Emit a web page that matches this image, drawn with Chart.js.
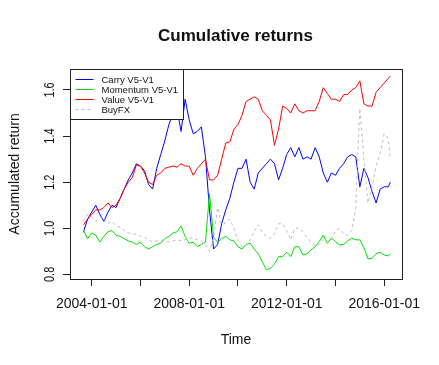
<!DOCTYPE html>
<html>
<head>
<meta charset="utf-8">
<script src="https://cdn.jsdelivr.net/npm/chart.js@4"></script>
<style>
  html, body { margin: 0; padding: 0; background: #fff; }
</style>
</head>
<body>
<canvas id="chart" width="439" height="365"></canvas>
<script>
var dates = [
  '2003-09', '2003-11',
  '2004-01', '2004-03', '2004-05', '2004-07', '2004-09', '2004-11',
  '2005-01', '2005-03', '2005-05', '2005-07', '2005-09', '2005-11',
  '2006-01', '2006-03', '2006-05', '2006-07', '2006-09', '2006-11',
  '2007-01', '2007-03', '2007-05', '2007-07', '2007-09', '2007-11',
  '2008-01', '2008-03', '2008-05', '2008-07', '2008-09', '2008-11',
  '2009-01', '2009-03', '2009-05', '2009-07', '2009-09', '2009-11',
  '2010-01', '2010-03', '2010-05', '2010-07', '2010-09', '2010-11',
  '2011-01', '2011-03', '2011-05', '2011-07', '2011-09', '2011-11',
  '2012-01', '2012-03', '2012-05', '2012-07', '2012-09', '2012-11',
  '2013-01', '2013-03', '2013-05', '2013-07', '2013-09', '2013-11',
  '2014-01', '2014-03', '2014-05', '2014-07', '2014-09', '2014-11',
  '2015-01', '2015-03', '2015-05', '2015-07', '2015-09', '2015-11',
  '2016-01', '2016-03', '2016-04'
];

var carry = [
  0.985, 1.04, 1.07, 1.10, 1.06, 1.03, 1.07, 1.10, 1.09, 1.13,
  1.17, 1.21, 1.24, 1.28, 1.27, 1.25, 1.19, 1.17, 1.26, 1.32,
  1.38, 1.45, 1.50, 1.52, 1.42, 1.56, 1.47, 1.41, 1.42, 1.44,
  1.31, 1.08, 0.91, 0.93, 1.02, 1.08, 1.13, 1.20, 1.26, 1.26,
  1.30, 1.20, 1.17, 1.24, 1.26, 1.28, 1.30, 1.28, 1.21, 1.26,
  1.32, 1.35, 1.31, 1.35, 1.30, 1.31, 1.30, 1.35, 1.31, 1.24,
  1.20, 1.24, 1.23, 1.26, 1.28, 1.31, 1.32, 1.31, 1.18, 1.26,
  1.22, 1.16, 1.11, 1.17, 1.18, 1.18, 1.20
];

var momentum = [
  0.99, 0.955, 0.98, 0.97, 0.94, 0.965, 0.985, 0.99, 0.97, 0.965,
  0.955, 0.945, 0.94, 0.93, 0.94, 0.92, 0.91, 0.92, 0.93, 0.935,
  0.955, 0.965, 0.98, 0.985, 1.01, 0.965, 0.935, 0.94, 0.92, 0.93,
  0.94, 1.15, 0.96, 0.94, 0.955, 0.965, 0.95, 0.945, 0.92, 0.91,
  0.93, 0.935, 0.91, 0.89, 0.855, 0.82, 0.826, 0.845, 0.877, 0.877,
  0.896, 0.877, 0.92, 0.92, 0.884, 0.89, 0.906, 0.92, 0.942, 0.97,
  0.935, 0.957, 0.942, 0.928, 0.93, 0.945, 0.957, 0.95, 0.95, 0.916,
  0.867, 0.87, 0.89, 0.896, 0.884, 0.88, 0.89
];

var value = [
  1.015, 1.04, 1.06, 1.08, 1.08, 1.09, 1.11, 1.09, 1.10, 1.13,
  1.17, 1.20, 1.22, 1.275, 1.27, 1.24, 1.20, 1.19, 1.23, 1.24,
  1.26, 1.265, 1.27, 1.265, 1.28, 1.27, 1.27, 1.23, 1.26, 1.28,
  1.30, 1.21, 1.21, 1.23, 1.30, 1.37, 1.375, 1.43, 1.45, 1.49,
  1.55, 1.56, 1.57, 1.56, 1.51, 1.49, 1.47, 1.36, 1.43, 1.53,
  1.52, 1.50, 1.54, 1.51, 1.50, 1.51, 1.51, 1.51, 1.55, 1.61,
  1.585, 1.56, 1.56, 1.55, 1.58, 1.58, 1.60, 1.61, 1.64, 1.54,
  1.53, 1.53, 1.59, 1.61, 1.63, 1.65, 1.66
];

var buyFX = [
  1.03, 1.06, 1.05, 1.03, 1.05, 1.04, 1.02, 1.03, 1.01, 1.005,
  0.99, 0.98, 0.975, 0.975, 0.965, 0.96, 0.95, 0.94, 0.945, 0.95,
  0.945, 0.94, 0.945, 0.95, 0.945, 0.95, 0.96, 0.955, 0.95, 0.945,
  0.93, 0.90, 0.96, 1.09, 1.00, 1.03, 1.04, 1.00, 0.95, 0.92,
  0.925, 0.95, 0.985, 1.015, 0.98, 0.965, 0.957, 0.975, 1.02, 1.02,
  0.99, 0.95, 1.00, 1.00, 0.985, 0.96, 0.94, 0.925, 0.93, 0.95,
  0.935, 0.95, 0.99, 1.00, 0.975, 0.97, 0.99, 1.09, 1.52, 1.30,
  1.11, 1.175, 1.27, 1.325, 1.41, 1.39, 1.30
];

var seriesNames = ['Carry V5-V1', 'Momentum V5-V1', 'Value V5-V1', 'BuyFX'];
var seriesColors = ['#0000ff', '#00e000', '#ff0000', '#bebebe'];
var seriesDash = [[], [], [], [3, 3]];
var xTicks = [2004, 2006, 2008, 2010, 2012, 2014, 2016];
var xLabelYears = [2004, 2008, 2012, 2016];
var yTicks = [0.8, 1.0, 1.2, 1.4, 1.6];
var xRange = [2003.11, 2016.73];
var yRange = [0.78, 1.691];

var FONT = '"Liberation Sans", Arial, Helvetica, sans-serif';
var INK = '#111';

function toYear(s) {
  var p = s.split('-');
  return +p[0] + (p[1] - 1) / 12;
}

function points(vals) {
  return vals.map(function (v, i) {
    return { x: toYear(dates[i]), y: v };
  });
}

// R base graphics bits: box, legend, titles, rotated y labels
var rBase = {
  id: 'rBase',
  afterDraw: function (chart) {
    var ctx = chart.ctx;
    var ca = chart.chartArea;
    var ys = chart.scales.y;

    ctx.save();
    ctx.strokeStyle = '#222';
    ctx.lineWidth = 1;
    ctx.strokeRect(Math.round(ca.left) + 0.5, Math.round(ca.top) + 0.5,
      Math.round(ca.right - ca.left), Math.round(ca.bottom - ca.top));

    // y tick labels, parallel to the axis
    ctx.fillStyle = INK;
    ctx.font = '14px ' + FONT;
    ctx.textAlign = 'center';
    ctx.textBaseline = 'alphabetic';
    ys.ticks.forEach(function (t) {
      var py = ys.getPixelForValue(t.value);
      ctx.save();
      ctx.translate(ca.left - 16.5, py);
      ctx.rotate(-Math.PI / 2);
      ctx.scale(0.78, 1);
      ctx.fillText(t.value.toFixed(1), 0, 0);
      ctx.restore();
    });

    // legend
    var lx = Math.round(ca.left) + 0.5, ly = Math.round(ca.top) + 0.5;
    ctx.fillStyle = '#fff';
    ctx.fillRect(lx, ly, 113, 50);
    ctx.strokeStyle = '#222';
    ctx.strokeRect(lx, ly, 113, 50);
    ctx.font = '9.5px ' + FONT;
    ctx.textAlign = 'left';
    ctx.textBaseline = 'middle';
    for (var i = 0; i < seriesNames.length; i++) {
      var y = ly + 10 + i * 10;
      ctx.strokeStyle = seriesColors[i];
      ctx.setLineDash(seriesDash[i]);
      ctx.beginPath();
      ctx.moveTo(lx + 5, y);
      ctx.lineTo(lx + 23, y);
      ctx.stroke();
      ctx.setLineDash([]);
      ctx.fillStyle = INK;
      ctx.fillText(seriesNames[i], lx + 31, y + 0.5);
    }

    // titles
    ctx.fillStyle = INK;
    ctx.textAlign = 'center';
    ctx.textBaseline = 'alphabetic';
    ctx.font = 'bold 17px ' + FONT;
    ctx.fillText('Cumulative returns', 235.5, 40.7);
    ctx.font = '14px ' + FONT;
    ctx.fillText('Time', (ca.left + ca.right) / 2, 344);
    ctx.save();
    ctx.translate(19, (ca.top + ca.bottom) / 2);
    ctx.rotate(-Math.PI / 2);
    ctx.fillText('Accumulated return', 0, 0);
    ctx.restore();

    ctx.restore();
  }
};

var seriesData = [carry, momentum, value, buyFX];

new Chart(document.getElementById('chart'), {
  type: 'line',
  data: {
    datasets: seriesData.map(function (vals, i) {
      return {
        label: seriesNames[i],
        data: points(vals),
        borderColor: seriesColors[i],
        borderDash: seriesDash[i],
        order: seriesNames.length - i
      };
    })
  },
  options: {
    responsive: false,
    animation: false,
    devicePixelRatio: 1,
    layout: { padding: { top: 69, right: 37, left: 0, bottom: 0 } },
    elements: {
      line: { borderWidth: 1, tension: 0, fill: false },
      point: { radius: 0 }
    },
    plugins: {
      legend: { display: false },
      tooltip: { enabled: false },
      title: { display: false }
    },
    scales: {
      x: {
        type: 'linear',
        min: xRange[0],
        max: xRange[1],
        border: { display: false },
        grid: { drawOnChartArea: false, drawTicks: true, tickLength: 7, color: '#222' },
        ticks: {
          autoSkip: false,
          maxRotation: 0,
          minRotation: 0,
          padding: 10,
          color: INK,
          font: { family: FONT, size: 14 },
          callback: function (v) {
            return xLabelYears.indexOf(v) >= 0 ? v + '-01-01' : '';
          }
        },
        afterBuildTicks: function (s) {
          s.ticks = xTicks.map(function (v) { return { value: v }; });
        },
        afterFit: function (s) { s.height = 86; }
      },
      y: {
        type: 'linear',
        min: yRange[0],
        max: yRange[1],
        border: { display: false },
        grid: { drawOnChartArea: false, drawTicks: true, tickLength: 7, color: '#222' },
        ticks: { display: false },
        afterBuildTicks: function (s) {
          s.ticks = yTicks.map(function (v) { return { value: v }; });
        },
        afterFit: function (s) { s.width = 70; }
      }
    }
  },
  plugins: [rBase]
});
</script>
</body>
</html>
